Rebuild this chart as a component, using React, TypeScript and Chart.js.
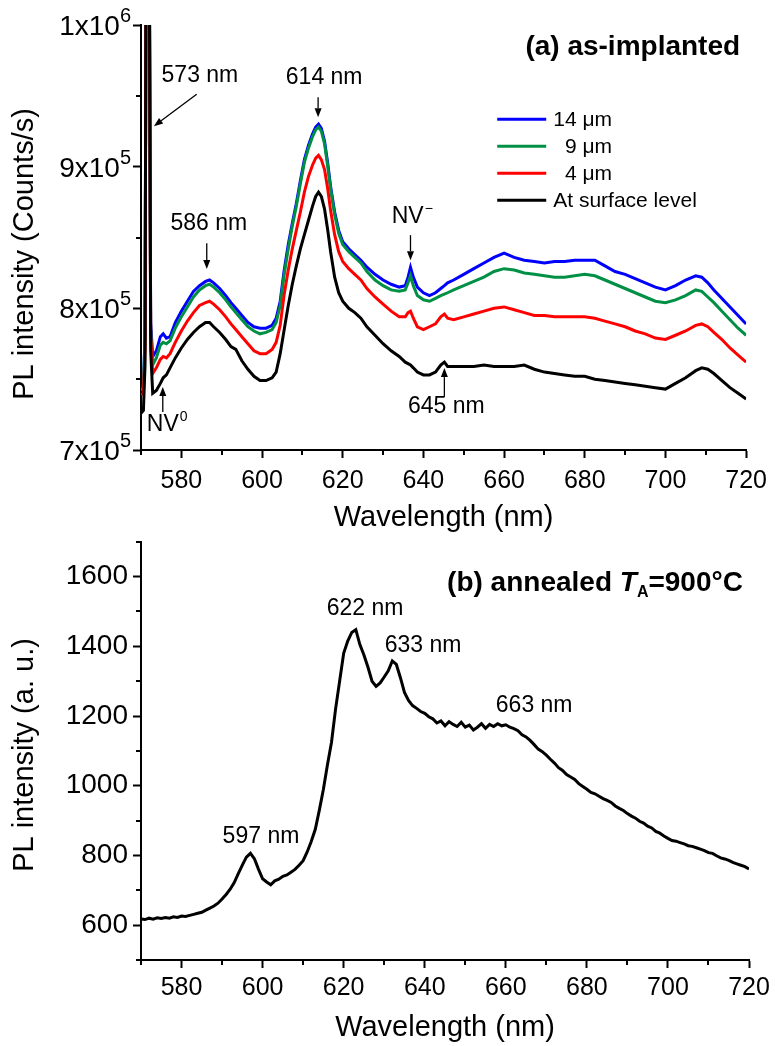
import React, { useEffect, useRef } from "react";
import { Chart, registerables } from "chart.js";

Chart.register(...registerables);

const FONT = "'Liberation Sans', Arial, Helvetica, sans-serif";

// ---------- Panel (a): as-implanted ----------
const WL_A = [
  570, 570.6, 571.0, 571.3, 572.0, 572.4, 572.9, 573.8, 574.8, 575.5,
  576.3, 577.2, 578.5, 580, 581.5, 583, 584.5, 586, 587, 588,
  589.5, 591, 592.3, 593.5, 595, 596.5, 598, 599.5, 601, 602.5,
  603.5, 604.5, 605.5, 606.5, 607.5, 608.5, 609.5, 610.5, 611.5, 612.5,
  613.3, 614, 614.7, 615.5, 616.3, 617, 618, 619, 620, 621.5,
  623, 624.5, 626, 628, 630, 632, 634, 635.5, 636.2, 636.8,
  637.5, 638.5, 640, 641.5, 643, 644.3, 645.2, 646, 647.5, 650,
  652.5, 655, 657.5, 660, 662.5, 665, 667.5, 670, 672.5, 675,
  677.5, 680, 682.5, 685, 687.5, 690, 692.5, 695, 697.5, 700,
  702.5, 705, 707.5, 709, 710.5, 712, 714, 716, 718, 720,
];

const PL_14UM = [
  7.44e5, 7.46e5, 7.8e5, 11e5, 11e5, 7.9e5, 7.66e5, 7.70e5, 7.80e5, 7.82e5,
  7.79e5, 7.80e5, 7.90e5, 7.98e5, 8.05e5, 8.12e5, 8.16e5, 8.19e5, 8.20e5, 8.18e5,
  8.14e5, 8.09e5, 8.04e5, 8.00e5, 7.95e5, 7.90e5, 7.87e5, 7.86e5, 7.86e5, 7.88e5,
  7.93e5, 8.05e5, 8.27e5, 8.45e5, 8.60e5, 8.74e5, 8.90e5, 9.05e5, 9.15e5, 9.23e5,
  9.28e5, 9.30e5, 9.27e5, 9.18e5, 9.02e5, 8.86e5, 8.68e5, 8.55e5, 8.47e5, 8.42e5,
  8.38e5, 8.34e5, 8.29e5, 8.24e5, 8.20e5, 8.17e5, 8.15e5, 8.16e5, 8.22e5, 8.29e5,
  8.22e5, 8.15e5, 8.11e5, 8.09e5, 8.11e5, 8.14e5, 8.16e5, 8.18e5, 8.20e5, 8.24e5,
  8.28e5, 8.32e5, 8.36e5, 8.39e5, 8.36e5, 8.34e5, 8.33e5, 8.32e5, 8.33e5, 8.33e5,
  8.34e5, 8.34e5, 8.34e5, 8.30e5, 8.26e5, 8.24e5, 8.21e5, 8.18e5, 8.15e5, 8.13e5,
  8.16e5, 8.20e5, 8.23e5, 8.22e5, 8.18e5, 8.13e5, 8.07e5, 8.01e5, 7.95e5, 7.89e5,
];

const PL_9UM = [
  7.42e5, 7.44e5, 7.8e5, 11e5, 11e5, 7.85e5, 7.60e5, 7.65e5, 7.74e5, 7.76e5,
  7.75e5, 7.77e5, 7.86e5, 7.94e5, 8.01e5, 8.08e5, 8.13e5, 8.16e5, 8.17e5, 8.15e5,
  8.11e5, 8.06e5, 8.01e5, 7.97e5, 7.92e5, 7.87e5, 7.84e5, 7.82e5, 7.83e5, 7.85e5,
  7.90e5, 8.02e5, 8.24e5, 8.42e5, 8.58e5, 8.72e5, 8.88e5, 9.03e5, 9.13e5, 9.21e5,
  9.26e5, 9.28e5, 9.25e5, 9.16e5, 9.00e5, 8.84e5, 8.66e5, 8.53e5, 8.45e5, 8.40e5,
  8.36e5, 8.32e5, 8.26e5, 8.20e5, 8.16e5, 8.13e5, 8.12e5, 8.13e5, 8.18e5, 8.23e5,
  8.16e5, 8.09e5, 8.06e5, 8.05e5, 8.07e5, 8.09e5, 8.10e5, 8.11e5, 8.13e5, 8.16e5,
  8.19e5, 8.22e5, 8.26e5, 8.28e5, 8.27e5, 8.25e5, 8.24e5, 8.23e5, 8.22e5, 8.22e5,
  8.23e5, 8.24e5, 8.23e5, 8.20e5, 8.17e5, 8.14e5, 8.11e5, 8.08e5, 8.05e5, 8.04e5,
  8.06e5, 8.09e5, 8.13e5, 8.12e5, 8.08e5, 8.04e5, 7.98e5, 7.92e5, 7.86e5, 7.81e5,
];

const PL_4UM = [
  7.39e5, 7.40e5, 7.7e5, 11e5, 11e5, 7.8e5, 7.54e5, 7.58e5, 7.64e5, 7.66e5,
  7.65e5, 7.68e5, 7.76e5, 7.84e5, 7.91e5, 7.97e5, 8.02e5, 8.04e5, 8.05e5, 8.03e5,
  7.99e5, 7.94e5, 7.89e5, 7.85e5, 7.80e5, 7.75e5, 7.70e5, 7.68e5, 7.68e5, 7.71e5,
  7.76e5, 7.88e5, 8.10e5, 8.27e5, 8.42e5, 8.55e5, 8.68e5, 8.82e5, 8.93e5, 9.01e5,
  9.06e5, 9.08e5, 9.05e5, 8.98e5, 8.84e5, 8.69e5, 8.52e5, 8.40e5, 8.33e5, 8.28e5,
  8.24e5, 8.20e5, 8.14e5, 8.08e5, 8.03e5, 7.98e5, 7.94e5, 7.94e5, 7.97e5, 7.98e5,
  7.93e5, 7.87e5, 7.85e5, 7.87e5, 7.89e5, 7.94e5, 7.96e5, 7.93e5, 7.92e5, 7.94e5,
  7.96e5, 7.98e5, 8.00e5, 8.01e5, 7.99e5, 7.97e5, 7.95e5, 7.95e5, 7.94e5, 7.94e5,
  7.94e5, 7.94e5, 7.93e5, 7.91e5, 7.89e5, 7.87e5, 7.84e5, 7.82e5, 7.79e5, 7.78e5,
  7.81e5, 7.84e5, 7.88e5, 7.89e5, 7.87e5, 7.83e5, 7.78e5, 7.72e5, 7.67e5, 7.62e5,
];

const PL_SURFACE = [
  7.26e5, 7.28e5, 7.6e5, 11e5, 11e5, 7.7e5, 7.40e5, 7.42e5, 7.47e5, 7.51e5,
  7.53e5, 7.58e5, 7.65e5, 7.72e5, 7.78e5, 7.83e5, 7.87e5, 7.90e5, 7.90e5, 7.87e5,
  7.83e5, 7.78e5, 7.73e5, 7.71e5, 7.63e5, 7.57e5, 7.52e5, 7.49e5, 7.49e5, 7.51e5,
  7.55e5, 7.68e5, 7.85e5, 8.02e5, 8.17e5, 8.30e5, 8.42e5, 8.52e5, 8.62e5, 8.72e5,
  8.79e5, 8.82e5, 8.79e5, 8.70e5, 8.55e5, 8.40e5, 8.22e5, 8.11e5, 8.05e5, 8.00e5,
  7.97e5, 7.93e5, 7.87e5, 7.81e5, 7.75e5, 7.70e5, 7.66e5, 7.62e5, 7.61e5, 7.60e5,
  7.58e5, 7.55e5, 7.53e5, 7.53e5, 7.55e5, 7.60e5, 7.62e5, 7.59e5, 7.59e5, 7.59e5,
  7.59e5, 7.60e5, 7.59e5, 7.59e5, 7.59e5, 7.60e5, 7.57e5, 7.55e5, 7.54e5, 7.53e5,
  7.52e5, 7.52e5, 7.50e5, 7.49e5, 7.48e5, 7.47e5, 7.46e5, 7.45e5, 7.44e5, 7.43e5,
  7.47e5, 7.51e5, 7.56e5, 7.58e5, 7.57e5, 7.54e5, 7.49e5, 7.44e5, 7.40e5, 7.36e5,
];

const SERIES_A_LABELS = ["14 \u03bcm", "  9 \u03bcm", "  4 \u03bcm", "At surface level"];
const SERIES_A_COLORS = ["#0000ff", "#009045", "#ff0000", "#000000"];

// ---------- Panel (b): annealed ----------
const WL_B = [
  570, 571, 572, 573, 574, 575, 576, 577, 578, 579,
  580, 581, 582, 583, 584, 585, 586, 587, 588, 589,
  590, 591, 592, 593, 594, 595, 596, 597, 598, 599,
  600, 601, 602, 603, 604, 605, 606, 607, 608, 609,
  610, 611, 612, 613, 614, 615, 616, 617, 618, 619,
  620, 621, 622, 623, 624, 625, 626, 627, 628, 629,
  630, 631, 632, 633, 634, 635, 636, 637, 638, 639,
  640, 641, 642, 643, 644, 645, 646, 647, 648, 649,
  650, 651, 652, 653, 654, 655, 656, 657, 658, 659,
  660, 661, 662, 663, 664, 665, 666, 667, 668, 669,
  670, 671, 672, 673, 674, 675, 676, 677, 678, 679,
  680, 681, 682, 683, 684, 685, 686, 687, 688, 689,
  690, 691, 692, 693, 694, 695, 696, 697, 698, 699,
  700, 701, 702, 703, 704, 705, 706, 707, 708, 709,
  710, 711, 712, 713, 714, 715, 716, 717, 718, 719,
  720,
];

const PL_ANNEALED = [
  618, 616, 620, 617, 621, 619, 622, 620, 624, 622,
  626, 625, 628, 631, 634, 637, 643, 649, 655, 663,
  675, 688, 703, 722, 748, 772, 795, 806, 790, 760,
  733, 724, 716, 727, 732, 740, 744, 752, 760, 772,
  785, 810, 840, 875, 930, 990, 1060, 1125, 1220, 1300,
  1380, 1415, 1440, 1448, 1405, 1375, 1340, 1300, 1285, 1295,
  1312, 1330, 1358, 1348, 1310, 1268, 1245, 1230, 1222, 1213,
  1208, 1198, 1192, 1180, 1186, 1172, 1184, 1176, 1170, 1182,
  1168, 1174, 1160, 1168, 1178, 1165, 1176, 1170, 1178, 1172,
  1175, 1168, 1164, 1158, 1146, 1140, 1130, 1118, 1105, 1098,
  1088, 1076, 1065, 1052, 1044, 1032, 1025, 1018, 1006, 998,
  990, 981, 977, 970, 963, 958, 952, 942, 935, 929,
  920, 913, 907, 898, 893, 884, 879, 869, 864, 856,
  849, 843, 841, 837, 833, 828, 826, 822, 818, 814,
  808, 806, 799, 793, 790, 786, 780, 776, 772, 768,
  761,
];

// ---------- Axes ----------
const X_TICKS = [580, 600, 620, 640, 660, 680, 700, 720];
const X_MINOR_TICKS = [570, 590, 610, 630, 650, 670, 690, 710];
const YA_TICKS = [7e5, 8e5, 9e5, 1e6];
const YA_TICK_MANTISSA = ["7x10", "8x10", "9x10", "1x10"];
const YA_TICK_EXP = ["5", "5", "5", "6"];
const YA_MINOR_TICKS = [7.5e5, 8.5e5, 9.5e5];
const YB_TICKS = [600, 800, 1000, 1200, 1400, 1600];
const YB_MINOR_TICKS = [500, 700, 900, 1100, 1300, 1500, 1700];

// ---------- Annotations ----------
const PEAK_LABELS_A = [
  { text: "573 nm", x: 584.6, y: 9.645e5 },
  { text: "614 nm", x: 615.4, y: 9.631e5 },
  { text: "586 nm", x: 586.8, y: 8.601e5 },
  { text: "645 nm", x: 645.7, y: 7.303e5 },
];
const NV_LABELS_A = [
  { base: "NV", sup: "0", x: 575.4, y: 7.176e5 },
  { base: "NV", sup: "\u2212", x: 636.1, y: 8.644e5 },
];
const ARROWS_A = [
  { x1: 583.8, y1: 9.511e5, x2: 573.2, y2: 9.286e5 },
  { x1: 613.9, y1: 9.49e5, x2: 613.9, y2: 9.349e5 },
  { x1: 586.3, y1: 8.46e5, x2: 586.3, y2: 8.277e5 },
  { x1: 575.4, y1: 7.268e5, x2: 575.4, y2: 7.444e5 },
  { x1: 636.8, y1: 8.517e5, x2: 636.8, y2: 8.34e5 },
  { x1: 645.2, y1: 7.374e5, x2: 645.2, y2: 7.578e5 },
];
const LEGEND_A = { x: 658.3, y: 9.335e5 };
const TITLE_A = { text: "(a) as-implanted", x: 718.5, y: 9.843e5 };

const PEAK_LABELS_B = [
  { text: "622 nm", x: 625.3, y: 1508 },
  { text: "633 nm", x: 639.6, y: 1403 },
  { text: "663 nm", x: 667.0, y: 1231 },
  { text: "597 nm", x: 599.6, y: 853 },
];
const TITLE_B = { x: 718.5, y: 1581 };

const CANVAS_W = 775;
const CANVAS_A_H = 545;
const CANVAS_B_TOP = 520;
const CANVAS_B_H = 526;

function drawArrow(ctx: CanvasRenderingContext2D, x1: number, y1: number, x2: number, y2: number) {
  const ang = Math.atan2(y2 - y1, x2 - x1);
  const hl = 9;
  const hw = 3.5;
  const bx = x2 - hl * Math.cos(ang);
  const by = y2 - hl * Math.sin(ang);
  ctx.save();
  ctx.strokeStyle = "#000";
  ctx.fillStyle = "#000";
  ctx.lineWidth = 1.3;
  ctx.beginPath();
  ctx.moveTo(x1, y1);
  ctx.lineTo(bx, by);
  ctx.stroke();
  ctx.beginPath();
  ctx.moveTo(x2, y2);
  ctx.lineTo(bx + hw * Math.sin(ang), by - hw * Math.cos(ang));
  ctx.lineTo(bx - hw * Math.sin(ang), by + hw * Math.cos(ang));
  ctx.closePath();
  ctx.fill();
  ctx.restore();
}

function drawMinorTicks(chart: any, xs: number[], ys: number[]) {
  const { ctx, chartArea: ca, scales } = chart;
  ctx.save();
  ctx.strokeStyle = "#000";
  ctx.lineWidth = 2;
  xs.forEach((v) => {
    const px = Math.round(scales.x.getPixelForValue(v));
    ctx.beginPath();
    ctx.moveTo(px, ca.bottom);
    ctx.lineTo(px, ca.bottom + 5);
    ctx.stroke();
  });
  ys.forEach((v) => {
    const py = Math.round(scales.y.getPixelForValue(v));
    ctx.beginPath();
    ctx.moveTo(ca.left, py);
    ctx.lineTo(ca.left - 5, py);
    ctx.stroke();
  });
  ctx.restore();
}

function drawAxisTitles(ctx: CanvasRenderingContext2D, yTitle: string, yCenter: number, xTitle: string, xCenter: number, xBaseline: number) {
  ctx.save();
  ctx.fillStyle = "#000";
  ctx.font = `29px ${FONT}`;
  ctx.textAlign = "center";
  ctx.textBaseline = "alphabetic";
  ctx.fillText(xTitle, xCenter, xBaseline);
  ctx.translate(33, yCenter);
  ctx.rotate(-Math.PI / 2);
  ctx.fillText(yTitle, 0, 0);
  ctx.restore();
}

const panelAPlugin = {
  id: "panelA",
  afterDraw(chart: any) {
    const { ctx, chartArea: ca, scales } = chart;
    const X = (v: number) => scales.x.getPixelForValue(v);
    const Y = (v: number) => scales.y.getPixelForValue(v);
    drawMinorTicks(chart, X_MINOR_TICKS, YA_MINOR_TICKS);
    ctx.save();
    ctx.fillStyle = "#000";
    // y tick labels with superscript exponents
    YA_TICKS.forEach((v, i) => {
      const py = Y(v);
      const right = ca.left - 10;
      ctx.textAlign = "right";
      ctx.textBaseline = "alphabetic";
      ctx.font = `20px ${FONT}`;
      const ew = ctx.measureText(YA_TICK_EXP[i]).width;
      ctx.fillText(YA_TICK_EXP[i], right, py - 3);
      ctx.font = `28px ${FONT}`;
      ctx.fillText(YA_TICK_MANTISSA[i], right - ew, py + 10);
    });
    // peak labels
    ctx.font = `23px ${FONT}`;
    ctx.textAlign = "center";
    ctx.textBaseline = "middle";
    PEAK_LABELS_A.forEach((l) => ctx.fillText(l.text, X(l.x), Y(l.y)));
    // NV labels
    NV_LABELS_A.forEach((l) => {
      ctx.font = `23px ${FONT}`;
      ctx.textAlign = "center";
      ctx.textBaseline = "middle";
      const w = ctx.measureText(l.base).width;
      ctx.fillText(l.base, X(l.x), Y(l.y));
      ctx.font = `14px ${FONT}`;
      ctx.textAlign = "left";
      ctx.fillText(l.sup, X(l.x) + w / 2 + 1, Y(l.y) - 8);
    });
    ARROWS_A.forEach((a) => drawArrow(ctx, X(a.x1), Y(a.y1), X(a.x2), Y(a.y2)));
    // title
    ctx.font = `bold 28px ${FONT}`;
    ctx.textAlign = "right";
    ctx.textBaseline = "middle";
    ctx.fillText(TITLE_A.text, X(TITLE_A.x), Y(TITLE_A.y));
    // legend
    const lx = X(LEGEND_A.x);
    const ly = Y(LEGEND_A.y);
    chart.data.datasets.forEach((ds: any, i: number) => {
      const y = ly + i * 27;
      ctx.strokeStyle = ds.borderColor;
      ctx.lineWidth = 3;
      ctx.beginPath();
      ctx.moveTo(lx, y);
      ctx.lineTo(lx + 49, y);
      ctx.stroke();
      ctx.font = `21px ${FONT}`;
      ctx.textAlign = "left";
      ctx.textBaseline = "middle";
      ctx.fillStyle = "#000";
      ctx.fillText(ds.label, lx + 56, y + 1);
    });
    ctx.restore();
    drawAxisTitles(ctx, "PL intensity (Counts/s)", 254, "Wavelength (nm)", (ca.left + ca.right) / 2, 526);
  },
};

const panelBPlugin = {
  id: "panelB",
  afterDraw(chart: any) {
    const { ctx, chartArea: ca, scales } = chart;
    const X = (v: number) => scales.x.getPixelForValue(v);
    const Y = (v: number) => scales.y.getPixelForValue(v);
    drawMinorTicks(chart, X_MINOR_TICKS, YB_MINOR_TICKS);
    ctx.save();
    ctx.fillStyle = "#000";
    ctx.font = `23px ${FONT}`;
    ctx.textAlign = "center";
    ctx.textBaseline = "middle";
    PEAK_LABELS_B.forEach((l) => ctx.fillText(l.text, X(l.x), Y(l.y)));
    // title: (b) annealed T_A=900°C
    const parts = [
      { t: "(b) annealed ", f: `bold 28px ${FONT}`, dy: 0 },
      { t: "T", f: `italic bold 28px ${FONT}`, dy: 0 },
      { t: "A", f: `bold 16px ${FONT}`, dy: 9 },
      { t: "=900\u00b0C", f: `bold 28px ${FONT}`, dy: 0 },
    ];
    let total = 0;
    parts.forEach((p) => {
      ctx.font = p.f;
      total += ctx.measureText(p.t).width;
    });
    let cx = X(TITLE_B.x) - total;
    const ty = Y(TITLE_B.y);
    ctx.textAlign = "left";
    ctx.textBaseline = "middle";
    parts.forEach((p) => {
      ctx.font = p.f;
      ctx.fillText(p.t, cx, ty + p.dy);
      cx += ctx.measureText(p.t).width;
    });
    ctx.restore();
    drawAxisTitles(ctx, "PL intensity (a. u.)", 755 - CANVAS_B_TOP, "Wavelength (nm)", (ca.left + ca.right) / 2, 1036 - CANVAS_B_TOP);
  },
};

function axisCommon() {
  return {
    grid: { display: true, drawOnChartArea: false, drawTicks: true, tickLength: 8, tickWidth: 2, tickColor: "#000" },
    border: { display: true, color: "#000", width: 2 },
  };
}

const plainNumber = (v: number | string) => String(v);

function makeConfigA(): any {
  const datasets = [PL_14UM, PL_9UM, PL_4UM, PL_SURFACE].map((vals, i) => ({
    label: SERIES_A_LABELS[i],
    data: WL_A.map((w, j) => ({ x: w, y: vals[j] })),
    borderColor: SERIES_A_COLORS[i],
    backgroundColor: SERIES_A_COLORS[i],
    borderWidth: 3,
    pointRadius: 0,
    tension: 0,
    fill: false,
    order: 3 - i,
  }));
  return {
    type: "line",
    data: { datasets },
    plugins: [panelAPlugin],
    options: {
      animation: false,
      responsive: false,
      events: [],
      layout: { padding: { left: 0, right: 26, top: 25, bottom: 0 } },
      plugins: { legend: { display: false }, tooltip: { enabled: false } },
      scales: {
        x: {
          type: "linear",
          min: 570,
          max: 720,
          afterBuildTicks: (s: any) => { s.ticks = X_TICKS.map((v) => ({ value: v })); },
          afterFit: (s: any) => { s.height = CANVAS_A_H - 450; },
          ...axisCommon(),
          ticks: { color: "#000", font: { family: FONT, size: 25 }, padding: 8, maxRotation: 0, autoSkip: false, callback: plainNumber },
        },
        y: {
          type: "linear",
          min: 7e5,
          max: 1e6,
          afterBuildTicks: (s: any) => { s.ticks = YA_TICKS.map((v) => ({ value: v })); },
          afterFit: (s: any) => { s.width = 141; },
          ...axisCommon(),
          ticks: { display: false },
        },
      },
    },
  };
}

function makeConfigB(): any {
  return {
    type: "line",
    data: {
      datasets: [
        {
          label: "annealed",
          data: WL_B.map((w, j) => ({ x: w, y: PL_ANNEALED[j] })),
          borderColor: "#000",
          borderWidth: 3,
          pointRadius: 0,
          tension: 0,
          fill: false,
        },
      ],
    },
    plugins: [panelBPlugin],
    options: {
      animation: false,
      responsive: false,
      events: [],
      layout: { padding: { left: 0, right: 26, top: 535 - CANVAS_B_TOP, bottom: 0 } },
      plugins: { legend: { display: false }, tooltip: { enabled: false } },
      scales: {
        x: {
          type: "linear",
          min: 570,
          max: 720,
          afterBuildTicks: (s: any) => { s.ticks = X_TICKS.map((v) => ({ value: v })); },
          afterFit: (s: any) => { s.height = CANVAS_B_H - (960 - CANVAS_B_TOP); },
          ...axisCommon(),
          ticks: { color: "#000", font: { family: FONT, size: 25 }, padding: 5, maxRotation: 0, autoSkip: false, callback: plainNumber },
        },
        y: {
          type: "linear",
          min: 500,
          max: 1700,
          afterBuildTicks: (s: any) => { s.ticks = YB_TICKS.map((v) => ({ value: v })); },
          afterFit: (s: any) => { s.width = 141; },
          ...axisCommon(),
          ticks: { color: "#000", font: { family: FONT, size: 28 }, padding: 5, callback: plainNumber },
        },
      },
    },
  };
}

export default function App() {
  const refA = useRef<HTMLCanvasElement | null>(null);
  const refB = useRef<HTMLCanvasElement | null>(null);

  useEffect(() => {
    document.body.style.margin = "0";
    const a = new Chart(refA.current as HTMLCanvasElement, makeConfigA());
    const b = new Chart(refB.current as HTMLCanvasElement, makeConfigB());
    return () => {
      a.destroy();
      b.destroy();
    };
  }, []);

  return (
    <div style={{ position: "relative", width: CANVAS_W, height: 1046, background: "#fff" }}>
      <canvas ref={refA} width={CANVAS_W} height={CANVAS_A_H} style={{ position: "absolute", left: 0, top: 0, display: "block" }} />
      <canvas ref={refB} width={CANVAS_W} height={CANVAS_B_H} style={{ position: "absolute", left: 0, top: CANVAS_B_TOP, display: "block" }} />
    </div>
  );
}
